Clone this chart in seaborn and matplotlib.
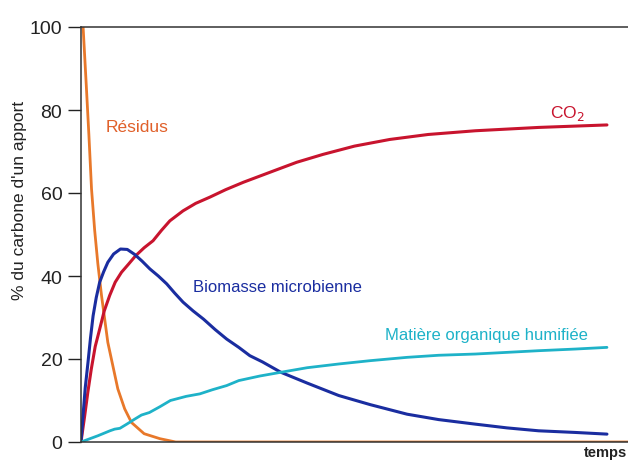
import numpy as np
import pandas as pd
import matplotlib
matplotlib.use('Agg')
import matplotlib.pyplot as plt
import seaborn as sns

# --- data ---
t_residus = [0.4, 1.0, 1.5, 2.0, 2.6, 3.2, 3.9, 5.1, 7.0, 8.3, 9.6, 12, 15, 18, 104]
residus = [100, 86, 74, 61, 51, 43, 35.3, 24, 12.8, 8, 4.7, 2, 0.8, 0, 0]

t_co2 = [0, 0.7, 1.3, 1.96, 2.7, 3.55, 4.4, 5.45, 6.5, 7.7, 9, 10.4, 12, 13.7, 15.3,
         16.9, 19.4, 21.8, 24.5, 27.5, 30.9, 37.2, 41, 46, 52, 58.7, 66, 75, 87, 100]
co2 = [0, 6.3, 12, 17.6, 23, 27.2, 31.5, 35.3, 38.5, 40.9, 42.8, 44.9, 46.8, 48.5, 51,
       53.3, 55.7, 57.5, 59, 60.8, 62.6, 65.6, 67.4, 69.3, 71.3, 72.9, 74.1, 75, 75.8, 76.4]

t_bio = [0, 0.38, 0.8, 1.33, 1.8, 2.3, 2.9, 3.55, 4.3, 5.1, 6.2, 7.5, 8.8, 10.2, 11.6,
         13.1, 14.7, 16.3, 17.8, 19.4, 21.3, 23.3, 25.5, 27.7, 30, 32.1, 34.5, 36.6,
         38, 43, 49, 55, 62, 68, 75, 81, 87, 94, 100]
biomasse = [0, 6.3, 13, 19.2, 25, 30.4, 34.8, 38.5, 41, 43.3, 45.3, 46.5, 46.4, 45.2, 43.6,
            41.7, 40, 38.1, 35.9, 33.7, 31.6, 29.6, 27.1, 24.8, 22.8, 20.8, 19.3, 17.8,
            16.8, 14.2, 11.2, 9, 6.7, 5.4, 4.3, 3.4, 2.7, 2.3, 1.9]

t_hum = [0, 3.2, 5.5, 6.4, 7.4, 8.7, 10.2, 11.5, 13, 15, 17, 20, 22.6, 25, 27.7, 30,
         34, 38, 43, 49, 55, 62, 68, 75, 81, 87, 94, 100]
humifiee = [0, 1.5, 2.7, 3.1, 3.3, 4.3, 5.5, 6.5, 7.1, 8.5, 10, 11, 11.6, 12.6, 13.6, 14.8,
            15.9, 16.8, 17.9, 18.8, 19.6, 20.4, 20.9, 21.2, 21.6, 22, 22.4, 22.8]

y_ticks = [0, 20, 40, 60, 80, 100]

c_res = '#E8782A'
c_co2 = '#C8142E'
c_bio = '#1A2DA0'
c_hum = '#1EB2C8'

sns.set_style('white')
plt.rcParams['font.family'] = ['Liberation Sans', 'DejaVu Sans']

fig = plt.figure(figsize=(6.28, 4.64), dpi=100)
ax = fig.add_axes([81/628, 21/464, 547/628, 415/464])

sns.lineplot(x=t_residus, y=residus, ax=ax, color=c_res, lw=2)
sns.lineplot(x=t_co2, y=co2, ax=ax, color=c_co2, lw=2.2)
sns.lineplot(x=t_bio, y=biomasse, ax=ax, color=c_bio, lw=2.2)
sns.lineplot(x=t_hum, y=humifiee, ax=ax, color=c_hum, lw=2)

ax.set_xlim(0, 104)
ax.set_ylim(0, 100)
ax.set_xticks([])
ax.set_yticks(y_ticks)
ax.tick_params(axis='y', length=9.5, width=1, pad=4, labelsize=14, colors='#222222',
               direction='out', left=True)
for s in ['left', 'top', 'bottom']:
    ax.spines[s].set_color('#333333')
    ax.spines[s].set_linewidth(1.1)
ax.spines['right'].set_visible(False)

# curve labels
ax.text(4.6, 74.9, 'Résidus', color='#E0602A', fontsize=12.5)
ax.text(89.2, 78.3, 'CO$_2$', color=c_co2, fontsize=12.5)
ax.text(21.3, 36.5, 'Biomasse microbienne', color=c_bio, fontsize=12)
ax.text(57.8, 24.8, 'Matière organique humifiée', color=c_hum, fontsize=12)

fig.text(20/628, 1 - 200/464, "% du carbone d'un apport", rotation=90,
         ha='center', va='center', fontsize=12.5, color='#222222')
fig.text(584/628, 1 - 446/464, 'temps', ha='left', va='top',
         fontsize=10.5, fontweight='bold', color='#222222')

fig.savefig('out.png', dpi=100)
